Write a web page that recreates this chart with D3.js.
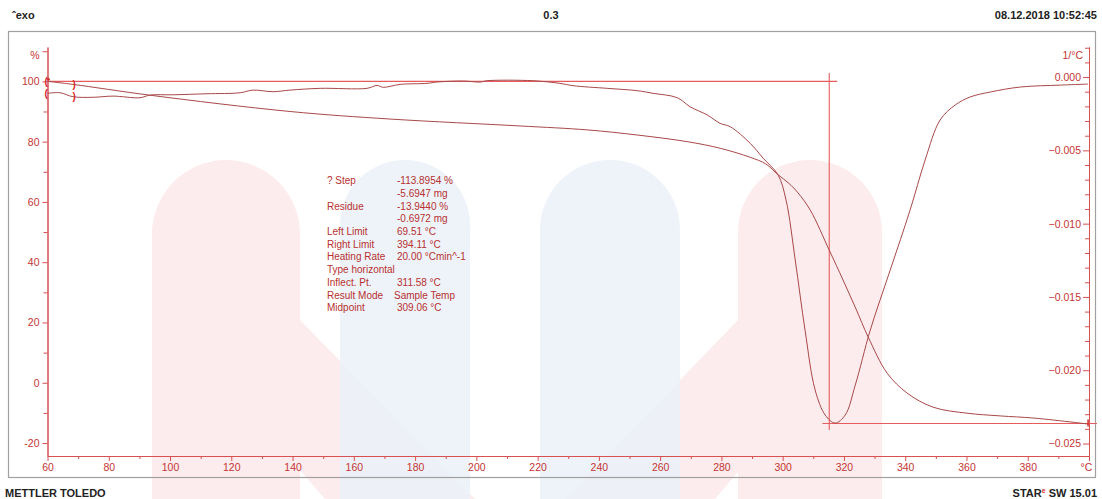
<!DOCTYPE html>
<html><head><meta charset="utf-8">
<script src="https://cdn.jsdelivr.net/npm/d3@7"></script>
<style>body{margin:0;background:#fff;}svg{display:block}</style>
</head><body>
<svg id="c" width="1102" height="499"></svg>
<script>
// ---- data ----
const tgaTemp = [60,68.3,93.5,139.2,171.8,214.3,236.2,252.5,268.8,279.6,289.4,294.5,298.5,302.0,305.0,309.0,315.2,319.7,323.8,327.9,334.1,340.6,349.1,360.2,371.0,381.8,394.8,399.7];
const tgaPct  = [100.0,99.0,95.4,90.0,87.5,85.2,83.9,82.2,80.0,77.8,74.8,72.6,69.0,66.2,63.0,57.3,44.0,34.1,24.8,15.2,3.2,-3.4,-8.1,-10.1,-11.0,-11.7,-13.1,-13.7];
const dtgTemp = [60,64.1,68.3,74.9,81.4,90.2,93.5,101.0,112.1,122.9,127.1,133.6,139.2,149.0,164.3,167.6,169.6,175.1,183.9,187.2,195.7,201.2,203.5,218.5,227.3,231.6,242.7,252.5,257.7,265.6,269.8,275.4,279.6,282.9,289.4,293.6,298.5,301.1,304.1,307.3,310.6,313.9,317.1,320.4,323.7,328.6,335.1,341.6,346.5,351.4,356.3,361.2,367.8,377.6,390.6,399.7];
const dtgVal  = [-0.00111,-0.00107,-0.00134,-0.00138,-0.00130,-0.00141,-0.00123,-0.00121,-0.00114,-0.00107,-0.00089,-0.00100,-0.00089,-0.00077,-0.00077,-0.00057,-0.00070,-0.00050,-0.00043,-0.00034,-0.00027,-0.00034,-0.00025,-0.00025,-0.00043,-0.00059,-0.00077,-0.00093,-0.00111,-0.00141,-0.00203,-0.00259,-0.00316,-0.00339,-0.00452,-0.00553,-0.00668,-0.00839,-0.01248,-0.01726,-0.02135,-0.02306,-0.02360,-0.02306,-0.02101,-0.01726,-0.01317,-0.00907,-0.00566,-0.00293,-0.00191,-0.00136,-0.00102,-0.00068,-0.00055,-0.00048];
const xTicks = [60,80,100,120,140,160,180,200,220,240,260,280,300,320,340,360,380,400];
const xUnit = "°C";
const leftTicks = [110,100,80,60,40,20,0,-20];
const leftUnit = "%";
const rightTicks = [0,-0.005,-0.010,-0.015,-0.020,-0.025];
const rightUnit = "1/°C";
const baselinePct = 100, residuePct = -13.5, markerTemp = 315.2, leftLimit = 68.5;
const resultLabels = ["? Step","","Residue","","Left Limit","Right Limit","Heating Rate","Type horizontal","Inflect. Pt.","Result Mode","Midpoint"];
const resultValues = ["-113.8954 %","-5.6947 mg","-13.9440 %","-0.6972 mg","69.51 °C","394.11 °C","20.00 °Cmin^-1","","311.58 °C","Sample Temp","309.06 °C"];
const headerLeft = "ˆexo", headerMid = "0.3", headerRight = "08.12.2018 10:52:45";
const footerLeft = "METTLER TOLEDO";

// ---- drawing ----
const svg = d3.select("#c");
const AX = "#d85050", TXT = "#c43434", CURVE = "#a84848", REF = "#e65c5c";

// watermark
const wm = svg.append("g");
function pill(x0,x1,top,bottom){const r=(x1-x0)/2;return `M${x0},${bottom}L${x0},${top+r}A${r},${r} 0 0 1 ${x1},${top+r}L${x1},${bottom}Z`;}
wm.append("path").attr("d",pill(152,300,160,499)).attr("fill","#fdeced");
wm.append("path").attr("d","M225,385L300,320L475,499L325,499Z").attr("fill","#fdeced");
wm.append("path").attr("d",pill(738,882,160,499)).attr("fill","#fdeced");
wm.append("path").attr("d","M812,385L738,320L565,499L715,499Z").attr("fill","#fdeced");
wm.append("path").attr("d",pill(340,470,160,499)).attr("fill","#ebf2f7").attr("opacity",0.9);
wm.append("path").attr("d",pill(540,680,160,499)).attr("fill","#ebf2f7").attr("opacity",0.9);

// frame
svg.append("rect").attr("x",8.5).attr("y",31.5).attr("width",1087).attr("height",446)
  .attr("fill","none").attr("stroke","#a0a0a0").attr("stroke-width",1.2);

const x = d3.scaleLinear().domain([60,400]).range([47.5,1089]);
const yL = d3.scaleLinear().domain([-24.3,111.4]).range([456,47]);
const yR = d3.scaleLinear().domain([-0.02585,0.00205]).range([456,47]);

function styleAxis(g){
  g.selectAll(".domain").attr("stroke",AX);
  g.selectAll(".tick line").attr("stroke",AX);
  g.selectAll("text").attr("fill",TXT).style("font-family","Liberation Sans, Arial, sans-serif").style("font-size","10.5px");
}
// bottom axis
const bMinor = svg.append("g").attr("transform","translate(0,456)")
  .call(d3.axisBottom(x).tickValues(d3.range(70,400,20)).tickSize(3).tickFormat("").tickSizeOuter(0));
styleAxis(bMinor);
const bMajor = svg.append("g").attr("transform","translate(0,456)")
  .call(d3.axisBottom(x).tickValues(xTicks).tickSize(5).tickSizeOuter(0).tickPadding(3)
    .tickFormat(d=>d===400?xUnit:d));
styleAxis(bMajor);
bMajor.selectAll(".tick text").filter(d=>d===400).attr("dx","-3");

// left axis
const lMinor = svg.append("g").attr("transform","translate(47.5,0)")
  .call(d3.axisLeft(yL).tickValues([90,70,50,30,10,-10]).tickSize(4).tickFormat("").tickSizeOuter(0));
styleAxis(lMinor);
const lMajor = svg.append("g").attr("transform","translate(47.5,0)")
  .call(d3.axisLeft(yL).tickValues(leftTicks).tickSize(5).tickSizeOuter(0).tickPadding(3)
    .tickFormat(d=>d===110?leftUnit:d));
styleAxis(lMajor);
lMajor.selectAll(".tick text").filter(d=>d===110).attr("dy","0.7em");

// right axis (ticks inward)
const rMinorVals = d3.range(-25,3).map(k=>k/1000).filter(v=>Math.abs(v*1000)%5!==0);
const rMinor = svg.append("g").attr("transform","translate(1089,0)")
  .call(d3.axisLeft(yR).tickValues(rMinorVals).tickSize(4).tickFormat("").tickSizeOuter(0));
styleAxis(rMinor);
const rMajor = svg.append("g").attr("transform","translate(1089,0)")
  .call(d3.axisLeft(yR).tickValues(rightTicks).tickSize(6).tickSizeOuter(0).tickPadding(2)
    .tickFormat(d3.format(".3f")));
styleAxis(rMajor);
svg.append("text").attr("x",1083).attr("y",yR(0.0015)+4).attr("text-anchor","end")
  .attr("fill",TXT).style("font-family","Liberation Sans, Arial, sans-serif").style("font-size","10.5px").text(rightUnit);

// reference lines
svg.append("line").attr("x1",x(60)).attr("x2",x(317.8)).attr("y1",yL(baselinePct)).attr("y2",yL(baselinePct))
  .attr("stroke",REF).attr("stroke-width",1.2);
svg.append("line").attr("x1",x(markerTemp)).attr("x2",x(markerTemp)).attr("y1",73).attr("y2",430)
  .attr("stroke",REF).attr("stroke-width",1.1);
svg.append("line").attr("x1",x(313)).attr("x2",x(402.6)).attr("y1",yL(residuePct)).attr("y2",yL(residuePct))
  .attr("stroke",REF).attr("stroke-width",1.1);

// curves
const tga = tgaTemp.map((t,i)=>[t,tgaPct[i]]);
const dtg = dtgTemp.map((t,i)=>[t,dtgVal[i]]);
svg.append("path").attr("d",d3.line().x(d=>x(d[0])).y(d=>yL(d[1])).curve(d3.curveCatmullRom.alpha(0.5))(tga))
  .attr("fill","none").attr("stroke",CURVE).attr("stroke-width",1);
svg.append("path").attr("d",d3.line().x(d=>x(d[0])).y(d=>yR(d[1])).curve(d3.curveCatmullRom.alpha(0.5))(dtg))
  .attr("fill","none").attr("stroke",CURVE).attr("stroke-width",1);

// limit brackets
const br = svg.append("g").attr("fill","#d42a2a").style("font-family","Liberation Sans, Arial, sans-serif")
  .style("font-size","10px").style("font-weight","bold");
br.append("text").attr("x",x(60)-3).attr("y",yL(tgaPct[0])+3.5).text("(");
br.append("text").attr("x",x(leftLimit)-1).attr("y",yL(99.0)+3.5).text(")");
br.append("text").attr("x",x(60)-3).attr("y",yR(dtgVal[0])+4).text("(");
br.append("text").attr("x",x(leftLimit)-1).attr("y",yR(dtgVal[2])+3.5).text(")");
svg.append("circle").attr("cx",x(60)+1).attr("cy",yL(100)-2).attr("r",1.3).attr("fill","#d42a2a");
svg.append("line").attr("x1",x(399.7)).attr("x2",x(399.7)).attr("y1",yL(residuePct)-4).attr("y2",yL(residuePct)+3)
  .attr("stroke","#d42a2a").attr("stroke-width",1.5);

// result text block
const rt = svg.append("g").attr("fill","#b83030").style("font-family","Liberation Sans, Arial, sans-serif").style("font-size","10px");
resultLabels.forEach((s,i)=>{
  const yy = 184.2 + i*12.7;
  if(s) rt.append("text").attr("x",327).attr("y",yy).text(s);
  if(resultValues[i]) rt.append("text").attr("x",(i===9?394:397)).attr("y",yy).text(resultValues[i]);
});

// header / footer
const hf = {"font-family":"Liberation Sans, Arial, sans-serif","font-size":"11px","font-weight":"bold"};
function ht(xx,yy,anchor,s){const t=svg.append("text").attr("x",xx).attr("y",yy).attr("text-anchor",anchor).attr("fill","#222").text(s);Object.entries(hf).forEach(([k,v])=>t.style(k,v));return t;}
ht(12,19,"start",headerLeft);
ht(551,19,"middle",headerMid);
ht(1097,19,"end",headerRight);
ht(5,497,"start",footerLeft);
const st = ht(1097,497,"end","");
st.append("tspan").text("STAR");
st.append("tspan").attr("fill","#d42a2a").attr("dy",-4).style("font-size","7px").text("e");
st.append("tspan").attr("dy",4).text(" SW 15.01");
</script>
</body></html>
